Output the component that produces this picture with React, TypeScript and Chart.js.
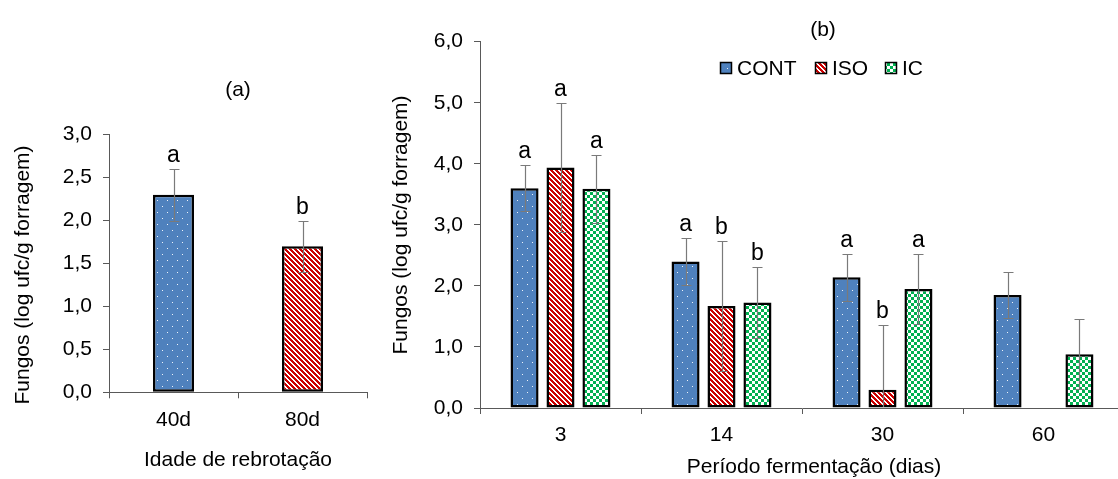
import React, { useEffect, useRef } from 'react';
import { Chart, registerables } from 'chart.js';
Chart.register(...registerables);

// ---------- data ----------
const agesA = ['40d', '80d'];
const valuesA = [2.3, 1.7];
const errorsA = [0.3, 0.3];
const lettersA = ['a', 'b'];

const periodsB = ['3', '14', '30', '60'];
const seriesNames = ['CONT', 'ISO', 'IC'];
const contValues = [3.6, 2.4, 2.14, 1.85];
const isoValues = [3.94, 1.67, 0.3, null];
const icValues = [3.59, 1.73, 1.95, 0.88];
const contErrors = [0.38, 0.38, 0.38, 0.38];
const isoErrors = [1.06, 1.06, 1.06, null];
const icErrors = [0.56, 0.58, 0.58, 0.57];
const contLetters = ['a', 'a', 'a', ''];
const isoLetters = ['a', 'b', 'b', ''];
const icLetters = ['a', 'b', 'a', ''];

const yMaxA = 3;
const yStepA = 0.5;
const yMaxB = 6;
const yStepB = 1;

const titleA = '(a)';
const titleB = '(b)';
const yTitle = 'Fungos (log ufc/g forragem)';
const xTitleA = 'Idade de rebrotação';
const xTitleB = 'Período fermentação (dias)';

// ---------- styles ----------
const FONT = '"Liberation Sans", Arial, sans-serif';
const FS = 21;
const LFS = 23;
const AXIS = '#595959';
const ERR = '#7a7a7a';
const BLUE = '#4F81BD';
const RED = '#CC0000';
const GREEN = '#00B050';

function makeTile(w: number, h: number, draw: (c: CanvasRenderingContext2D) => void) {
  const t = document.createElement('canvas');
  t.width = w;
  t.height = h;
  const c = t.getContext('2d')!;
  draw(c);
  return t;
}

function makePatterns(ctx: CanvasRenderingContext2D) {
  const dots = makeTile(10, 12, (c) => {
    c.fillStyle = BLUE;
    c.fillRect(0, 0, 10, 12);
    c.fillStyle = 'rgba(255,255,255,0.9)';
    c.fillRect(2, 2, 1, 1);
    c.fillRect(7, 8, 1, 1);
  });
  const N = 5;
  const stripes = makeTile(N, N, (c) => {
    c.fillStyle = '#ffffff';
    c.fillRect(0, 0, N, N);
    c.fillStyle = RED;
    for (let y = 0; y < N; y++) {
      for (let x = 0; x < N; x++) {
        const d = (((x - y) % N) + N) % N;
        if (d < 3) c.fillRect(x, y, 1, 1);
      }
    }
  });
  const checks = makeTile(6, 6, (c) => {
    c.fillStyle = '#ffffff';
    c.fillRect(0, 0, 6, 6);
    c.fillStyle = GREEN;
    c.fillRect(0, 0, 3, 3);
    c.fillRect(3, 3, 3, 3);
  });
  return {
    blue: ctx.createPattern(dots, 'repeat')!,
    red: ctx.createPattern(stripes, 'repeat')!,
    green: ctx.createPattern(checks, 'repeat')!,
  };
}

const fmt = (v: number | string) => Number(v).toFixed(1).replace('.', ',');

// error bars + significance letters
const errorPlugin = {
  id: 'errorLetters',
  afterDatasetsDraw(chart: any) {
    const ctx = chart.ctx as CanvasRenderingContext2D;
    const ys = chart.scales.y;
    const area = chart.chartArea;
    chart.data.datasets.forEach((ds: any, i: number) => {
      const meta = chart.getDatasetMeta(i);
      meta.data.forEach((bar: any, j: number) => {
        const v = ds.data[j];
        const e = ds.errors ? ds.errors[j] : null;
        if (v == null) return;
        const x = Math.round(bar.x) + 0.5;
        let capTop = ys.getPixelForValue(v);
        if (e != null) {
          const top = Math.round(ys.getPixelForValue(v + e)) + 0.5;
          const botVal = v - e;
          const bot = Math.round(ys.getPixelForValue(botVal)) + 0.5;
          capTop = top;
          ctx.save();
          ctx.beginPath();
          ctx.rect(area.left, area.top - 2, area.right - area.left, area.bottom - area.top + 1);
          ctx.clip();
          ctx.strokeStyle = ERR;
          ctx.lineWidth = 1.2;
          ctx.beginPath();
          ctx.moveTo(x, top);
          ctx.lineTo(x, bot);
          ctx.moveTo(x - 5, top);
          ctx.lineTo(x + 5, top);
          if (botVal >= 0) {
            ctx.moveTo(x - 5, bot);
            ctx.lineTo(x + 5, bot);
          }
          ctx.stroke();
          ctx.restore();
        }
        const letter = ds.letters ? ds.letters[j] : '';
        if (letter) {
          ctx.save();
          ctx.fillStyle = '#000';
          ctx.font = `${LFS}px ${FONT}`;
          ctx.textAlign = 'center';
          ctx.textBaseline = 'alphabetic';
          ctx.fillText(letter, bar.x, capTop - 8);
          ctx.restore();
        }
      });
    });
  },
};

function textPlugin(items: any[], legend?: any) {
  return {
    id: 'texts',
    afterDraw(chart: any) {
      const ctx = chart.ctx as CanvasRenderingContext2D;
      ctx.save();
      ctx.fillStyle = '#000';
      ctx.font = `${FS}px ${FONT}`;
      ctx.textBaseline = 'middle';
      items.forEach((it) => {
        ctx.save();
        ctx.translate(it.x, it.y);
        if (it.rotate) ctx.rotate(-Math.PI / 2);
        ctx.textAlign = it.align || 'center';
        ctx.fillText(it.text, 0, 0);
        ctx.restore();
      });
      if (legend) {
        legend.entries.forEach((en: any) => {
          ctx.fillStyle = en.fill;
          ctx.fillRect(en.bx, legend.y - 5.5, 11, 11);
          ctx.strokeStyle = '#000';
          ctx.lineWidth = 1.5;
          ctx.strokeRect(en.bx, legend.y - 5.5, 11, 11);
          ctx.fillStyle = '#000';
          ctx.textAlign = 'left';
          ctx.fillText(en.text, en.tx, legend.y + 1);
        });
      }
      ctx.restore();
    },
  };
}

function scalesFor(yMax: number, yStep: number, yWidth: number, xHeight: number) {
  return {
    x: {
      type: 'category',
      offset: true,
      afterFit: (s: any) => {
        s.height = xHeight;
      },
      grid: { display: true, drawOnChartArea: false, drawTicks: true, tickLength: 6, color: AXIS, offset: true },
      border: { display: true, color: AXIS, width: 1 },
      ticks: { color: '#000', font: { family: FONT, size: FS }, padding: 9, autoSkip: false, maxRotation: 0 },
    },
    y: {
      min: 0,
      max: yMax,
      afterFit: (s: any) => {
        s.width = yWidth;
      },
      grid: { display: true, drawOnChartArea: false, drawTicks: true, tickLength: 6, color: AXIS },
      border: { display: true, color: AXIS, width: 1 },
      ticks: {
        stepSize: yStep,
        color: '#000',
        font: { family: FONT, size: FS },
        padding: 11,
        callback: (v: any) => fmt(v),
      },
    },
  };
}

export default function App() {
  const refA = useRef<HTMLCanvasElement>(null);
  const refB = useRef<HTMLCanvasElement>(null);

  useEffect(() => {
    const ctxA = refA.current!.getContext('2d')!;
    const ctxB = refB.current!.getContext('2d')!;
    const pA = makePatterns(ctxA);
    const pB = makePatterns(ctxB);

    const chartA = new Chart(ctxA, {
      type: 'bar',
      data: {
        labels: agesA,
        datasets: [
          {
            data: valuesA,
            errors: errorsA,
            letters: lettersA,
            backgroundColor: [pA.blue, pA.red],
            borderColor: '#000',
            borderWidth: 2.5,
            borderSkipped: false,
            barPercentage: 0.318,
            categoryPercentage: 1,
          } as any,
        ],
      },
      options: {
        responsive: false,
        animation: false,
        layout: { padding: { left: 0, right: 33, top: 134.7, bottom: 0 } },
        plugins: { legend: { display: false }, tooltip: { enabled: false } },
        scales: scalesFor(yMaxA, yStepA, 109, 479 - 392.3) as any,
      },
      plugins: [
        errorPlugin,
        textPlugin([
          { text: titleA, x: 238, y: 90 },
          { text: yTitle, x: 23, y: 275, rotate: true },
          { text: xTitleA, x: 238, y: 460 },
        ]),
      ],
    });

    const offB = 380;
    const chartB = new Chart(ctxB, {
      type: 'bar',
      data: {
        labels: periodsB,
        datasets: [
          { label: seriesNames[0], data: contValues, errors: contErrors, letters: contLetters, backgroundColor: pB.blue },
          { label: seriesNames[1], data: isoValues, errors: isoErrors, letters: isoLetters, backgroundColor: pB.red },
          { label: seriesNames[2], data: icValues, errors: icErrors, letters: icLetters, backgroundColor: pB.green },
        ].map((d) => ({
          ...d,
          borderColor: '#000',
          borderWidth: 2.5,
          borderSkipped: false,
          barPercentage: 0.78,
          categoryPercentage: 0.67,
        })) as any,
      },
      options: {
        responsive: false,
        animation: false,
        layout: { padding: { left: 0, right: 16, top: 41.7, bottom: 0 } },
        plugins: { legend: { display: false }, tooltip: { enabled: false } },
        scales: scalesFor(yMaxB, yStepB, 100, 479 - 408) as any,
      },
      plugins: [
        errorPlugin,
        textPlugin(
          [
            { text: titleB, x: 823 - offB, y: 30 },
            { text: yTitle, x: 401 - offB, y: 225, rotate: true },
            { text: xTitleB, x: 814 - offB, y: 467 },
          ],
          {
            y: 68,
            entries: [
              { text: seriesNames[0], fill: pB.blue, bx: 720.5 - offB, tx: 737 - offB },
              { text: seriesNames[1], fill: pB.red, bx: 815.5 - offB, tx: 832 - offB },
              { text: seriesNames[2], fill: pB.green, bx: 885.5 - offB, tx: 902 - offB },
            ],
          }
        ),
      ],
    });

    return () => {
      chartA.destroy();
      chartB.destroy();
    };
  }, []);

  return (
    <div
      style={{
        position: 'fixed',
        left: 0,
        top: 0,
        width: 1118,
        height: 479,
        overflow: 'hidden',
        background: '#fff',
      }}
    >
      <canvas
        ref={refA}
        width={400}
        height={479}
        style={{ position: 'absolute', left: 0, top: 0, width: 400, height: 479 }}
      />
      <canvas
        ref={refB}
        width={760}
        height={479}
        style={{ position: 'absolute', left: 380, top: 0, width: 760, height: 479 }}
      />
    </div>
  );
}
